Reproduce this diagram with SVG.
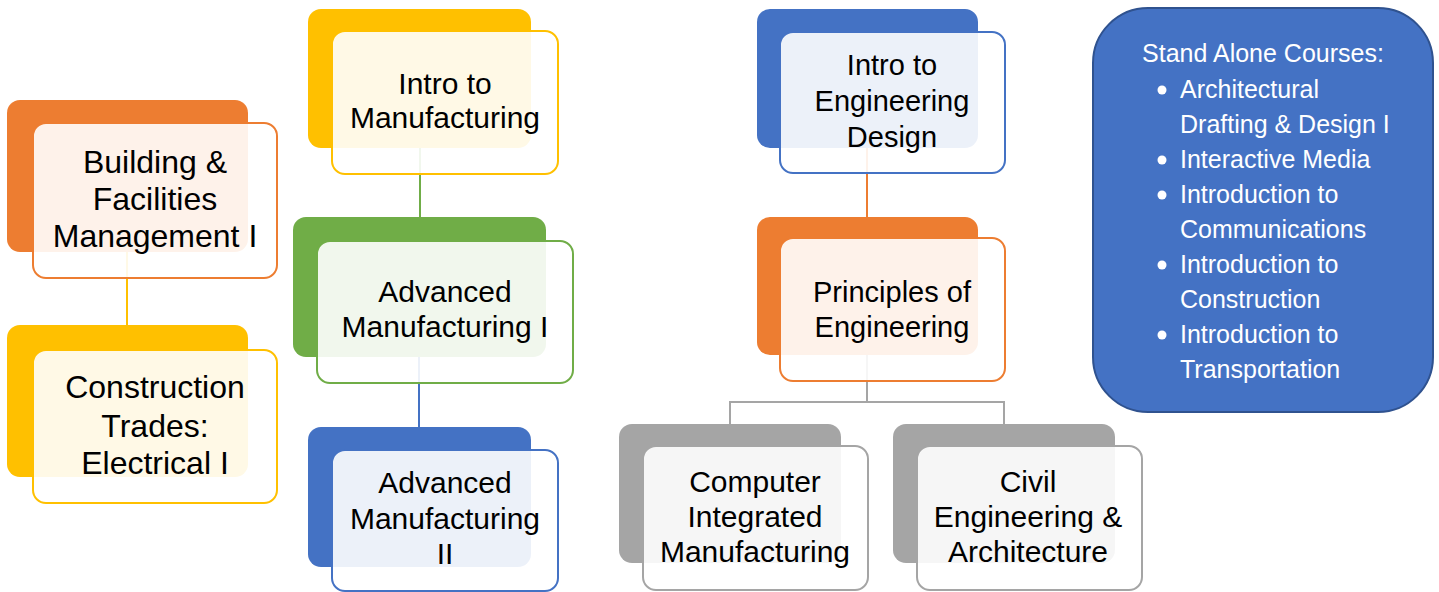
<svg xmlns="http://www.w3.org/2000/svg" width="1439" height="592" viewBox="0 0 1439 592">
<style>
.back{stroke:none}
.front{fill:#fff;fill-opacity:0.9;stroke-width:2}
.t{font-family:"Liberation Sans",Arial,sans-serif;fill:#000;text-anchor:middle}
.w{font-family:"Liberation Sans",Arial,sans-serif;fill:#fff;font-size:25px}
.c{fill:none;stroke-width:2}
</style>
<rect width="1439" height="592" fill="#fff"/>
<g id="connectors">
<line class="c" x1="127" y1="252" x2="127" y2="325" stroke="#FFC000"/>
<line class="c" x1="420" y1="148" x2="420" y2="217" stroke="#70AD47"/>
<line class="c" x1="419" y1="357" x2="419" y2="427" stroke="#4472C4"/>
<line class="c" x1="867" y1="148" x2="867" y2="217" stroke="#ED7D31"/>
<path class="c" d="M867 355 V402 M730 424 V402 H1004 V424" stroke="#A5A5A5"/>
</g>
<g id="building">
<rect class="back" x="7" y="100" width="241" height="152" rx="13" fill="#ED7D31"/>
<rect class="front" x="33" y="123" width="244" height="155" rx="13" stroke="#ED7D31"/>
<text class="t" font-size="32" x="155"><tspan x="155" y="173">Building &amp;</tspan><tspan x="155" y="210">Facilities</tspan><tspan x="155" y="247">Management I</tspan></text>
</g>
<g id="construction">
<rect class="back" x="7" y="325" width="241" height="152" rx="13" fill="#FFC000"/>
<rect class="front" x="33" y="350" width="244" height="153" rx="13" stroke="#FFC000"/>
<text class="t" font-size="32"><tspan x="155" y="398">Construction</tspan><tspan x="155" y="437">Trades:</tspan><tspan x="155" y="474">Electrical I</tspan></text>
</g>
<g id="intro-manufacturing">
<rect class="back" x="308" y="9" width="223" height="139" rx="13" fill="#FFC000"/>
<rect class="front" x="332" y="31" width="226" height="143" rx="13" stroke="#FFC000"/>
<text class="t" font-size="30"><tspan x="445" y="94">Intro to</tspan><tspan x="445" y="128">Manufacturing</tspan></text>
</g>
<g id="adv-manufacturing-1">
<rect class="back" x="293" y="217" width="253" height="140" rx="13" fill="#70AD47"/>
<rect class="front" x="317" y="241" width="256" height="142" rx="13" stroke="#70AD47"/>
<text class="t" font-size="30"><tspan x="445" y="302">Advanced</tspan><tspan x="445" y="337">Manufacturing I</tspan></text>
</g>
<g id="adv-manufacturing-2">
<rect class="back" x="308" y="427" width="223" height="140" rx="13" fill="#4472C4"/>
<rect class="front" x="332" y="450" width="226" height="141" rx="13" stroke="#4472C4"/>
<text class="t" font-size="30"><tspan x="445" y="493">Advanced</tspan><tspan x="445" y="529">Manufacturing</tspan><tspan x="445" y="564">II</tspan></text>
</g>
<g id="intro-engineering">
<rect class="back" x="757" y="9" width="221" height="139" rx="13" fill="#4472C4"/>
<rect class="front" x="780" y="32" width="225" height="141" rx="13" stroke="#4472C4"/>
<text class="t" font-size="29"><tspan x="892" y="75">Intro to</tspan><tspan x="892" y="111">Engineering</tspan><tspan x="892" y="147">Design</tspan></text>
</g>
<g id="principles">
<rect class="back" x="757" y="217" width="221" height="138" rx="13" fill="#ED7D31"/>
<rect class="front" x="780" y="238" width="225" height="143" rx="13" stroke="#ED7D31"/>
<text class="t" font-size="29"><tspan x="892" y="302">Principles of</tspan><tspan x="892" y="337">Engineering</tspan></text>
</g>
<g id="cim">
<rect class="back" x="619" y="424" width="222" height="139" rx="13" fill="#A5A5A5"/>
<rect class="front" x="643" y="446" width="225" height="144" rx="13" stroke="#A5A5A5"/>
<text class="t" font-size="30"><tspan x="755" y="492">Computer</tspan><tspan x="755" y="527">Integrated</tspan><tspan x="755" y="562">Manufacturing</tspan></text>
</g>
<g id="civil">
<rect class="back" x="893" y="424" width="222" height="139" rx="13" fill="#A5A5A5"/>
<rect class="front" x="917" y="446" width="225" height="144" rx="13" stroke="#A5A5A5"/>
<text class="t" font-size="30"><tspan x="1028" y="492">Civil</tspan><tspan x="1028" y="527">Engineering &amp;</tspan><tspan x="1028" y="562">Architecture</tspan></text>
</g>
<g id="standalone">
<rect x="1093" y="8" width="340" height="404" rx="55" fill="#4472C4" stroke="#2F528F" stroke-width="2"/>
<text class="w" x="1263" y="62" text-anchor="middle">Stand Alone Courses:</text>
<g fill="#fff">
<circle cx="1162" cy="90" r="4.5"/>
<circle cx="1162" cy="160" r="4.5"/>
<circle cx="1162" cy="195" r="4.5"/>
<circle cx="1162" cy="265" r="4.5"/>
<circle cx="1162" cy="335" r="4.5"/>
</g>
<text class="w"><tspan x="1180" y="98">Architectural</tspan><tspan x="1180" y="133">Drafting &amp; Design I</tspan><tspan x="1180" y="168">Interactive Media</tspan><tspan x="1180" y="203">Introduction to</tspan><tspan x="1180" y="238">Communications</tspan><tspan x="1180" y="273">Introduction to</tspan><tspan x="1180" y="308">Construction</tspan><tspan x="1180" y="343">Introduction to</tspan><tspan x="1180" y="378">Transportation</tspan></text>
</g>
</svg>
